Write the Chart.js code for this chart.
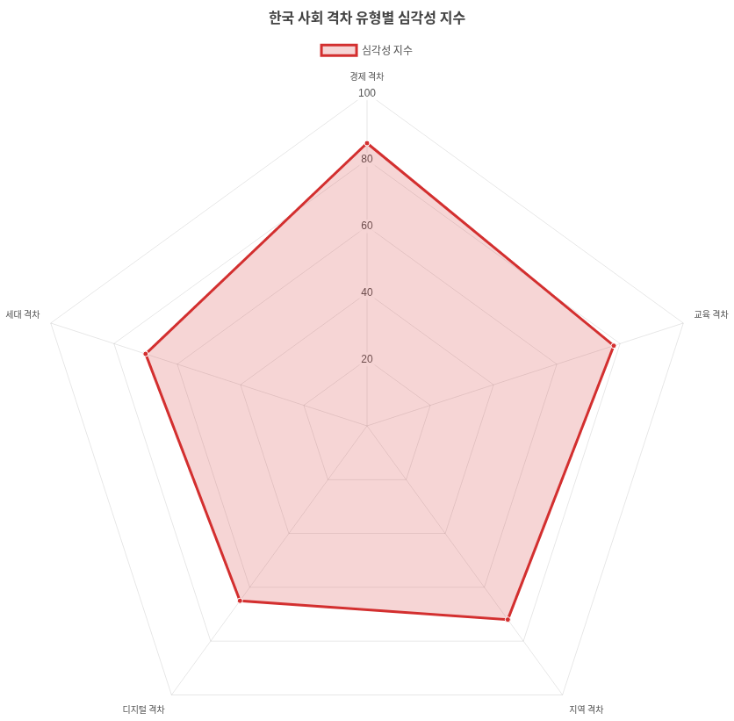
<!DOCTYPE html>
<html>
<head>
<meta charset="utf-8">
<script src="https://cdn.jsdelivr.net/npm/chart.js@4"></script>
<style>
  html, body { margin: 0; padding: 0; background: #fff; overflow: hidden; }
  #wrap {
    width: 836px;
    height: 882px;
    transform: scale(0.878);
    transform-origin: 0 0;
  }
</style>
</head>
<body>
<div id="wrap"><canvas id="myChart"></canvas></div>
<script>
var categories = ['경제 격차', '교육 격차', '지역 격차', '디지털 격차', '세대 격차'];
var severity = [85, 78, 72, 65, 70];

var ctx = document.getElementById('myChart').getContext('2d');
var myChart = new Chart(ctx, {
    type: 'radar',
    data: {
        labels: categories,
        datasets: [{
            label: '심각성 지수',
            data: severity,
            fill: true,
            borderColor: 'rgb(211, 47, 47)',
            backgroundColor: 'rgba(211, 47, 47, 0.2)',
            borderWidth: 3,
            pointBackgroundColor: 'rgb(211, 47, 47)',
            pointBorderColor: '#fff',
            pointBorderWidth: 1,
            pointRadius: 3
        }]
    },
    options: {
        responsive: true,
        maintainAspectRatio: false,
        animation: false,
        plugins: {
            title: {
                display: true,
                text: '한국 사회 격차 유형별 심각성 지수',
                color: '#444',
                font: { family: 'Noto Sans CJK KR', size: 16, weight: 'bold' },
                padding: { top: 10, bottom: 12 }
            },
            legend: {
                labels: {
                    color: '#555',
                    font: { family: 'Noto Sans CJK KR', size: 12 }
                }
            }
        },
        scales: {
            r: {
                min: 0,
                max: 100,
                ticks: {
                    stepSize: 20,
                    color: '#555',
                    font: { size: 12 }
                },
                pointLabels: {
                    color: '#555',
                    font: { family: 'Noto Sans CJK KR', size: 10 }
                }
            }
        }
    }
});
</script>
</body>
</html>
